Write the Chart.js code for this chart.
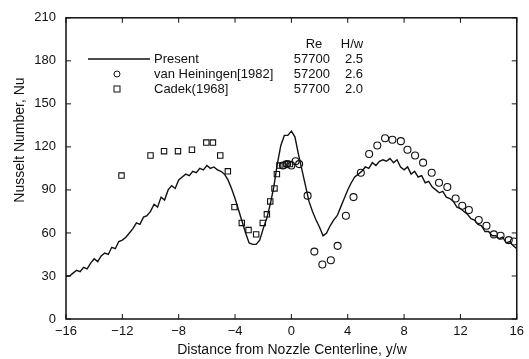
<!DOCTYPE html>
<html>
<head>
<meta charset="utf-8">
<script src="https://cdn.jsdelivr.net/npm/chart.js@4.4.0/dist/chart.umd.min.js"></script>
<style>
  html, body { margin: 0; padding: 0; background: #fff; }
  #wrap { width: 529px; height: 359px; position: relative; }
</style>
</head>
<body>
<div id="wrap"><canvas id="chart"></canvas></div>
<script>
// Present (computed) Nusselt number along the wall
const presentX = [
  -16, -15.75, -15.5, -15.25, -15, -14.75, -14.5, -14.25, -14, -13.75, -13.5, -13.25,
  -13, -12.75, -12.5, -12.25, -12, -11.75, -11.5, -11.25, -11, -10.75, -10.5, -10.25,
  -10, -9.75, -9.5, -9.25, -9, -8.75, -8.5, -8.25, -8, -7.75, -7.5, -7.25,
  -7, -6.75, -6.5, -6.25, -6, -5.75, -5.5, -5.25, -5, -4.75, -4.5, -4.25,
  -4, -3.75, -3.5, -3.25, -3, -2.75, -2.5, -2.25, -2, -1.75, -1.5, -1.25,
  -1, -0.75, -0.5, -0.25, 0, 0.25, 0.5, 0.75, 1, 1.25, 1.5, 1.75,
  2, 2.25, 2.5, 2.75, 3, 3.25, 3.5, 3.75, 4, 4.25, 4.5, 4.75,
  5, 5.25, 5.5, 5.75, 6, 6.25, 6.5, 6.75, 7, 7.25, 7.5, 7.75,
  8, 8.25, 8.5, 8.75, 9, 9.25, 9.5, 9.75, 10, 10.25, 10.5, 10.75,
  11, 11.25, 11.5, 11.75, 12, 12.25, 12.5, 12.75, 13, 13.25, 13.5, 13.75,
  14, 14.25, 14.5, 14.75, 15, 15.25, 15.5, 15.75, 16
];
const presentNu = [
  30, 30, 32, 34, 33, 36, 35, 39, 42, 40, 44, 46,
  45, 50, 49, 54, 55, 57, 60, 63, 67, 66, 71, 72,
  75, 80, 78, 85, 83, 90, 93, 91, 97, 99, 101, 100,
  103, 102, 105, 104, 107, 105, 106, 104, 103, 101, 97, 91,
  84, 76, 68, 60, 53, 52, 52, 55, 63, 70, 80, 92,
  108, 121, 128, 128, 131, 127, 115, 104, 93, 82, 75, 69,
  64, 58, 60, 65, 69, 72, 78, 84, 90, 95, 99, 101,
  103, 106, 105, 109, 107, 110, 111, 110, 112, 109, 111, 106,
  104, 106, 101, 103, 99, 100, 95, 96, 92, 90, 88, 89,
  85, 84, 82, 78, 77, 75, 73, 70, 69, 66, 65, 61,
  61, 58, 58, 56, 57, 53, 54, 51, 49
];

// van Heiningen [1982] measurements (open circles)
const heiningenX = [-0.6, -0.3, 0, 0.3, 0.55, 1.15, 1.63, 2.2, 2.8, 3.28, 3.87, 4.41,
  4.93, 5.52, 6.1, 6.65, 7.17, 7.77, 8.24, 8.78, 9.35, 9.96, 10.48, 11.07,
  11.66, 12.13, 12.6, 13.3, 13.85, 14.37, 14.85, 15.43, 15.8];
const heiningenNu = [107, 108, 107, 110, 108, 86, 47, 38, 41, 51, 72, 85,
  102, 115, 121, 126, 125, 124, 118, 114, 109, 102, 95, 92,
  84, 79, 76, 69, 65, 59, 58, 55, 54];

// Cadek [1968] measurements (open squares)
const cadekX = [-12.06, -10, -9.04, -8.05, -7.06, -6.04, -5.57, -5.05, -4.51, -4.04, -3.52,
  -3.04, -2.5, -2.03, -1.74, -1.5, -1.2, -1.03, -0.85, -0.6, -0.35, -0.1];
const cadekNu = [100, 114, 117, 117, 118, 123, 123, 114, 103, 78, 67,
  62, 59, 67, 73, 82, 91, 101, 107, 107, 108, 108];

const xTicks = [-16, -12, -8, -4, 0, 4, 8, 12, 16];
const yTicks = [0, 30, 60, 90, 120, 150, 180, 210];

const legendRows = [
  { name: "Present", re: "57700", hw: "2.5" },
  { name: "van Heiningen[1982]", re: "57200", hw: "2.6" },
  { name: "Cadek(1968]", re: "57700", hw: "2.0" }
];

const toPoints = (xs, ys) => xs.map((x, i) => ({ x: x, y: ys[i] }));
const ink = "#111";

// frame, inward ticks, legend and axis titles
const decorPlugin = {
  id: "decor",
  afterDraw(chart) {
    const ctx = chart.ctx;
    const a = chart.chartArea;
    const xs = chart.scales.x, ys = chart.scales.y;
    ctx.save();
    ctx.strokeStyle = ink;
    ctx.lineWidth = 1.5;
    ctx.strokeRect(a.left, a.top, a.right - a.left, a.bottom - a.top);
    ctx.lineWidth = 1;
    ctx.beginPath();
    xTicks.forEach(v => {
      const px = xs.getPixelForValue(v);
      ctx.moveTo(px, a.bottom); ctx.lineTo(px, a.bottom - 5);
      ctx.moveTo(px, a.top); ctx.lineTo(px, a.top + 5);
    });
    yTicks.forEach(v => {
      const py = ys.getPixelForValue(v);
      ctx.moveTo(a.left, py); ctx.lineTo(a.left + 5, py);
      ctx.moveTo(a.right, py); ctx.lineTo(a.right - 5, py);
    });
    ctx.stroke();

    // legend
    ctx.fillStyle = ink;
    ctx.font = "13px 'Liberation Sans', Arial, sans-serif";
    ctx.textBaseline = "middle";
    ctx.textAlign = "center";
    ctx.fillText("Re", 314, 44);
    ctx.fillText("H/w", 352, 44);
    const rowY = [59, 74, 89];
    legendRows.forEach((r, i) => {
      ctx.textAlign = "left";
      ctx.fillText(r.name, 154, rowY[i]);
      ctx.textAlign = "right";
      ctx.fillText(r.re, 330, rowY[i]);
      ctx.textAlign = "left";
      ctx.fillText(r.hw, 345, rowY[i]);
    });
    ctx.lineWidth = 1.4;
    ctx.beginPath();
    ctx.moveTo(88, 59); ctx.lineTo(150, 59);
    ctx.stroke();
    ctx.lineWidth = 1;
    ctx.beginPath();
    ctx.arc(117, 74, 3, 0, Math.PI * 2);
    ctx.stroke();
    ctx.strokeRect(114, 86, 6, 6);

    // axis titles
    ctx.font = "14px 'Liberation Sans', Arial, sans-serif";
    ctx.textAlign = "center";
    ctx.fillText("Distance from Nozzle Centerline, y/w", 292, 350);
    ctx.translate(20, 140);
    ctx.rotate(-Math.PI / 2);
    ctx.fillText("Nusselt Number, Nu", 0, 0);
    ctx.restore();
  }
};

new Chart(document.getElementById("chart"), {
  type: "scatter",
  data: {
    datasets: [
      {
        label: "Present",
        data: toPoints(presentX, presentNu),
        showLine: true,
        borderColor: ink,
        borderWidth: 1.4,
        pointRadius: 0,
        tension: 0
      },
      {
        label: "van Heiningen[1982]",
        data: toPoints(heiningenX, heiningenNu),
        pointStyle: "circle",
        pointRadius: 3.5,
        borderColor: ink,
        borderWidth: 1.1,
        backgroundColor: "rgba(0,0,0,0)"
      },
      {
        label: "Cadek(1968]",
        data: toPoints(cadekX, cadekNu),
        pointStyle: "rect",
        pointRadius: 3.8,
        borderColor: ink,
        borderWidth: 1.1,
        backgroundColor: "rgba(0,0,0,0)"
      }
    ]
  },
  options: {
    responsive: true,
    maintainAspectRatio: false,
    animation: false,
    layout: { padding: { top: 16, right: 11, left: 0, bottom: 0 } },
    plugins: { legend: { display: false }, tooltip: { enabled: false } },
    scales: {
      x: {
        type: "linear",
        min: -16, max: 16,
        afterFit(scale) { scale.height = 40; },
        afterBuildTicks(scale) { scale.ticks = xTicks.map(v => ({ value: v })); },
        grid: { display: false, drawTicks: false },
        border: { display: false },
        ticks: {
          padding: 5,
          color: ink,
          font: { family: "'Liberation Sans', Arial, sans-serif", size: 13 },
          callback: v => (v < 0 ? "\u2212" + Math.abs(v) : String(v))
        }
      },
      y: {
        type: "linear",
        min: 0, max: 210,
        afterFit(scale) { scale.width = 66; },
        afterBuildTicks(scale) { scale.ticks = yTicks.map(v => ({ value: v })); },
        grid: { display: false, drawTicks: false },
        border: { display: false },
        ticks: {
          padding: 10,
          color: ink,
          font: { family: "'Liberation Sans Narrow', 'Liberation Sans', Arial, sans-serif", size: 13 }
        }
      }
    }
  },
  plugins: [decorPlugin]
});
</script>
</body>
</html>
